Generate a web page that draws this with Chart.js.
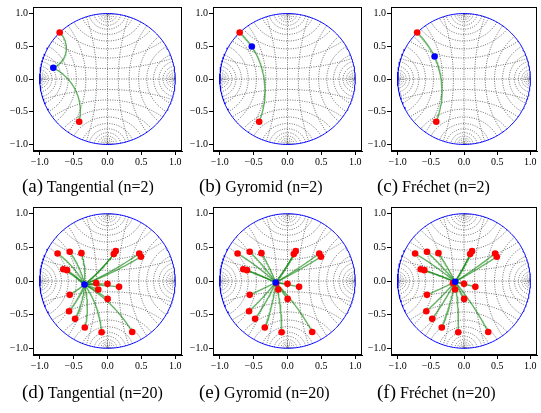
<!DOCTYPE html>
<html><head><meta charset="utf-8">
<script src="https://cdn.jsdelivr.net/npm/chart.js@4.4.0/dist/chart.umd.min.js"></script>
<style>
html,body{margin:0;padding:0;background:#fff;width:541px;height:413px;overflow:hidden;position:relative;}
canvas{position:absolute;left:0;top:0;}
.cap{position:absolute;font-family:'Liberation Serif',serif;font-size:16px;color:#000;white-space:nowrap;line-height:20px;}
.cap .lab{font-size:19px;}
</style></head><body>
<script>
// ---------- data ----------
const tickValues = [-1, -0.5, 0, 0.5, 1];
const gridCrossings = [0, 0.16, 0.32, 0.46, 0.58, 0.68, 0.76, 0.82, 0.87, 0.905, 0.93, 0.95, 0.965, 0.975, 0.983, 0.989, 0.993];
const redX2 = [-0.706, -0.418];
const redY2 = [0.710, -0.652];
const redX20 = [-0.737, -0.558, -0.385, 0.121, 0.093, 0.469, 0.494, -0.653, -0.598, -0.166, 0.000, 0.171, -0.136, -0.558, 0.002, -0.568, -0.479, -0.335, -0.087, 0.365];
const redY20 = [0.409, 0.434, 0.414, 0.444, 0.400, 0.409, 0.360, 0.175, 0.161, -0.032, -0.042, -0.087, -0.127, -0.206, -0.266, -0.449, -0.563, -0.692, -0.762, -0.757];
const meanX = [-0.800, -0.527, -0.443, -0.340, -0.174, -0.134];
const meanY = [0.170, 0.497, 0.343, -0.052, -0.022, -0.012];
const captionLabels = ['(a)', '(b)', '(c)', '(d)', '(e)', '(f)'];
const captionTexts = ['Tangential (n=2)', 'Gyromid (n=2)', 'Fréchet (n=2)', 'Tangential (n=20)', 'Gyromid (n=20)', 'Fréchet (n=20)'];

// ---------- layout ----------
const colLeft = [33, 213, 391];
const rowTop = [3, 207];
const areaW = 149, areaH = 148;
const capLeft = [22, 199, 377];
const capTop = [176, 382];

// ---------- geometry helpers ----------
function cmul(a, b) { return [a[0]*b[0]-a[1]*b[1], a[0]*b[1]+a[1]*b[0]]; }
function cdiv(a, b) { const d = b[0]*b[0]+b[1]*b[1]; return [(a[0]*b[0]+a[1]*b[1])/d, (a[1]*b[0]-a[0]*b[1])/d]; }
function geodesic(px, py, qx, qy, n) {
  const p = [px, py], pc = [px, -py], q = [qx, qy];
  const pq = cmul(pc, q);
  const w = cdiv([q[0]-p[0], q[1]-p[1]], [1-pq[0], -pq[1]]);
  const pts = [];
  for (let i = 0; i <= n; i++) {
    const t = i / n, u = [t*w[0], t*w[1]];
    const pu = cmul(pc, u);
    const z = cdiv([u[0]+p[0], u[1]+p[1]], [1+pu[0], pu[1]]);
    pts.push({x: z[0], y: z[1]});
  }
  return pts;
}
function arcPerp(a, swap) {
  let pts = [];
  if (a === 0) pts = [{x:0, y:-1}, {x:0, y:1}];
  else {
    const s = Math.sign(a), A = Math.abs(a);
    const c = (1+A*A)/(2*A), r = (1-A*A)/(2*A);
    const pe = Math.acos(-r/c);
    const n = 48;
    for (let i = 0; i <= n; i++) {
      const ph = pe + (2*Math.PI - 2*pe) * i / n;
      pts.push({x: s*(c + r*Math.cos(ph)), y: r*Math.sin(ph)});
    }
  }
  return swap ? pts.map(p => ({x: p.y, y: p.x})) : pts;
}

Chart.defaults.font.family = "'Liberation Serif', serif";
Chart.defaults.color = '#000';

const framePlugin = {
  id: 'frame',
  afterDraw(chart) {
    const {ctx, chartArea: a} = chart;
    ctx.save(); ctx.strokeStyle = '#000'; ctx.lineWidth = 1;
    ctx.strokeRect(Math.round(a.left)+0.5, Math.round(a.top)+0.5, Math.round(a.right-a.left)-1, Math.round(a.bottom-a.top)-1);
    ctx.restore();
  }
};

function fmt(v) { const s = Math.abs(v) < 1e-9 ? '0.0' : v.toFixed(1); return s.replace('-', '\u2212'); }

function buildPanel(k) {
  const row = k < 3 ? 0 : 1, col = k % 3;
  const rx = row === 0 ? redX2 : redX20, ry = row === 0 ? redY2 : redY20;
  const mx = meanX[k], my = meanY[k];
  const datasets = [];
  datasets.push({data: [{x: mx, y: my}], showLine: false, pointRadius: 3.3, pointBackgroundColor: '#0000ff', pointBorderWidth: 0, order: 0});
  datasets.push({data: rx.map((x, i) => ({x, y: ry[i]})), showLine: false, pointRadius: 3.3, pointBackgroundColor: '#ff0000', pointBorderWidth: 0, order: 1});
  rx.forEach((x, i) => datasets.push({data: geodesic(mx, my, x, ry[i], 40), showLine: true, pointRadius: 0, borderColor: 'rgba(0,128,0,0.6)', borderWidth: 1.4, order: 2}));
  const circ = [];
  for (let i = 0; i <= 240; i++) { const t = 2*Math.PI*i/240; circ.push({x: Math.cos(t), y: Math.sin(t)}); }
  datasets.push({data: circ, showLine: true, pointRadius: 0, borderColor: '#0000ff', borderWidth: 1, order: 3});
  const crossings = [];
  gridCrossings.forEach(a => { crossings.push(a); if (a !== 0) crossings.push(-a); });
  [false, true].forEach(sw => crossings.forEach(a => datasets.push({data: arcPerp(a, sw), showLine: true, pointRadius: 0, borderColor: 'rgba(45,45,45,0.85)', borderWidth: 0.8, borderDash: [1, 1.4], order: 4})));

  const cv = document.createElement('canvas');
  cv.width = 541; cv.height = 413;
  document.body.appendChild(cv);
  const L = colLeft[col], T = rowTop[row];
  const axisCommon = {
    type: 'linear', min: -1.1, max: 1.1,
    afterBuildTicks: s => { s.ticks = tickValues.map(v => ({value: v})); },
    ticks: {callback: v => fmt(v), font: {size: 10}, color: '#000', padding: 1, maxRotation: 0, autoSkip: false},
    grid: {display: true, drawOnChartArea: false, drawTicks: true, tickLength: 4, color: '#000', lineWidth: 1},
    border: {display: true, color: '#000', width: 1}
  };
  new Chart(cv, {
    type: 'scatter',
    data: {datasets},
    options: {
      responsive: false, animation: false, devicePixelRatio: 1,
      layout: {padding: {left: L - 30, top: T, right: 541 - (L + areaW), bottom: 413 - (T + areaH) - 20}},
      plugins: {legend: {display: false}, tooltip: {enabled: false}},
      events: [],
      scales: {
        x: Object.assign({}, axisCommon, {position: 'bottom', afterFit: s => { s.height = 20; }}),
        y: Object.assign({}, axisCommon, {position: 'left', afterFit: s => { s.width = 30; }})
      }
    },
    plugins: [framePlugin]
  });
  const cap = document.createElement('div');
  cap.className = 'cap';
  cap.style.left = capLeft[col] + 'px';
  cap.style.top = capTop[row] + 'px';
  cap.innerHTML = '<span class="lab">' + captionLabels[k] + '</span> ' + captionTexts[k];
  document.body.appendChild(cap);
}
for (let k = 0; k < 6; k++) buildPanel(k);
</script>
</body></html>
